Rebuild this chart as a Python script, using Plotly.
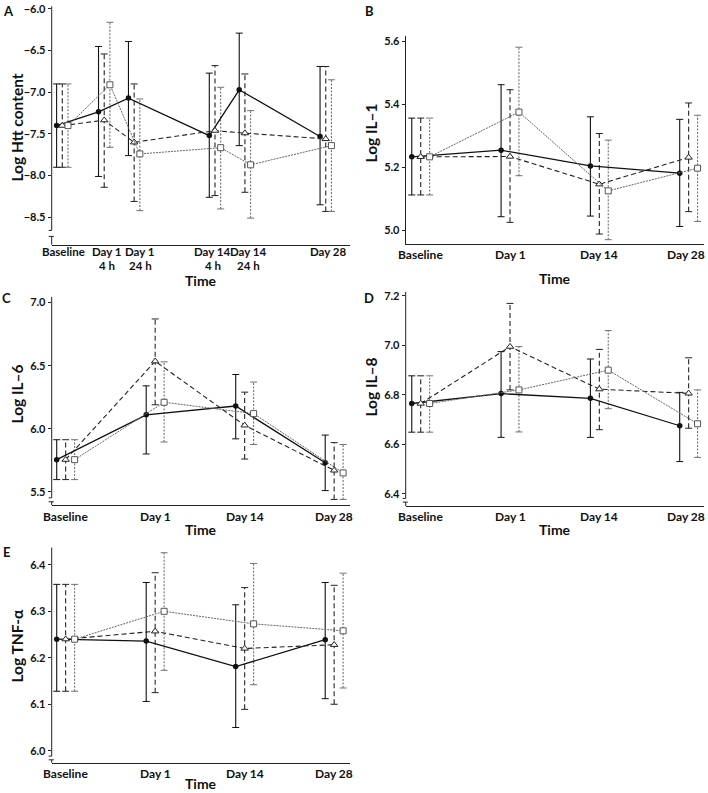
import plotly.graph_objects as go

W, H = 708, 793
FONT = "Lato"

# ---------------- data ----------------
htt_labels = ["Baseline", "Day 1<br>4 h", "Day 1<br>24 h", "Day 14<br>4 h", "Day 14<br>24 h", "Day 28"]
htt_positions = [0, 1.4, 2.4, 5.1, 6.1, 8.8]
visit_labels = ["Baseline", "Day 1", "Day 14", "Day 28"]
visit_positions = [0, 1, 2, 3]

# Panel A: Log Htt content
htt_g1 = [-7.40, -7.235, -7.07, -7.52, -6.97, -7.53]
htt_g1_lo = [-7.90, -8.01, -7.76, -8.26, -7.64, -8.35]
htt_g1_hi = [-6.90, -6.45, -6.39, -6.77, -6.29, -6.69]
htt_g2 = [-7.40, -7.335, -7.60, -7.46, -7.49, -7.56]
htt_g2_lo = [-7.90, -8.14, -8.31, -8.24, -8.20, -8.43]
htt_g2_hi = [-6.90, -6.54, -6.90, -6.68, -6.78, -6.69]
htt_g3 = [-7.40, -6.91, -7.74, -7.665, -7.87, -7.64]
htt_g3_lo = [-7.90, -7.66, -8.42, -8.40, -8.51, -8.43]
htt_g3_hi = [-6.90, -6.16, -7.08, -6.94, -7.22, -6.85]

# Panel B: Log IL-1
il1_g1 = [5.233, 5.254, 5.204, 5.181]
il1_g1_lo = [5.112, 5.043, 5.045, 5.012]
il1_g1_hi = [5.356, 5.462, 5.360, 5.352]
il1_g2 = [5.233, 5.234, 5.146, 5.231]
il1_g2_lo = [5.112, 5.025, 4.988, 5.059]
il1_g2_hi = [5.356, 5.446, 5.307, 5.404]
il1_g3 = [5.233, 5.375, 5.125, 5.197]
il1_g3_lo = [5.112, 5.173, 4.970, 5.028]
il1_g3_hi = [5.356, 5.581, 5.286, 5.365]

# Panel C: Log IL-6
il6_g1 = [5.755, 6.11, 6.18, 5.73]
il6_g1_lo = [5.597, 5.80, 5.92, 5.51]
il6_g1_hi = [5.913, 6.34, 6.43, 5.95]
il6_g2 = [5.755, 6.535, 6.027, 5.67]
il6_g2_lo = [5.597, 6.19, 5.76, 5.44]
il6_g2_hi = [5.913, 6.87, 6.29, 5.89]
il6_g3 = [5.755, 6.21, 6.12, 5.65]
il6_g3_lo = [5.597, 5.895, 5.875, 5.44]
il6_g3_hi = [5.913, 6.53, 6.37, 5.875]

# Panel D: Log IL-8
il8_g1 = [6.765, 6.805, 6.786, 6.675]
il8_g1_lo = [6.649, 6.628, 6.628, 6.53]
il8_g1_hi = [6.877, 6.975, 6.945, 6.81]
il8_g2 = [6.765, 6.995, 6.823, 6.806]
il8_g2_lo = [6.649, 6.82, 6.659, 6.665]
il8_g2_hi = [6.877, 7.17, 6.984, 6.95]
il8_g3 = [6.765, 6.82, 6.90, 6.683]
il8_g3_lo = [6.649, 6.65, 6.744, 6.547]
il8_g3_hi = [6.877, 6.995, 7.06, 6.82]

# Panel E: Log TNF-alpha
tnf_g1 = [6.240, 6.236, 6.181, 6.239]
tnf_g1_lo = [6.128, 6.106, 6.050, 6.112]
tnf_g1_hi = [6.358, 6.362, 6.314, 6.362]
tnf_g2 = [6.240, 6.257, 6.220, 6.228]
tnf_g2_lo = [6.128, 6.125, 6.089, 6.100]
tnf_g2_hi = [6.358, 6.383, 6.351, 6.356]
tnf_g3 = [6.240, 6.300, 6.273, 6.258]
tnf_g3_lo = [6.128, 6.173, 6.142, 6.135]
tnf_g3_hi = [6.358, 6.426, 6.403, 6.382]

# ---------------- styles ----------------
STYLES = [
    dict(line=dict(color="#111111", width=1.3, dash="solid"),
         marker=dict(symbol="circle", size=5.5, color="#111111", line=dict(width=0)),
         ebar=dict(color="#111111", width=1.1, dash="solid")),
    dict(line=dict(color="#222222", width=1.1, dash="5px,3px"),
         marker=dict(symbol="triangle-up", size=6.5, color="white", line=dict(width=1, color="#222222")),
         ebar=dict(color="#222222", width=1.1, dash="5px,3px")),
    dict(line=dict(color="#666666", width=1.0, dash="2px,1px"),
         marker=dict(symbol="square", size=6, color="white", line=dict(width=1, color="#555555")),
         ebar=dict(color="#707070", width=1.1, dash="2px,1.5px")),
]
TXT = "#111111"


def xdom(l, r):
    return [l / W, r / W]


def ydom(top, bottom):
    return [1 - bottom / H, 1 - top / H]


def py(ypix):
    return 1 - ypix / H


panels = [
    dict(n="", labels=htt_labels, pos=htt_positions, dodge=0.19, lab_shift=[1, 3, 6, -2, 4, 3],
         lab_size=11.5, lab_gap=14,
         series=[(htt_g1, htt_g1_lo, htt_g1_hi), (htt_g2, htt_g2_lo, htt_g2_hi), (htt_g3, htt_g3_lo, htt_g3_hi)],
         xd=xdom(51.7, 350), yd=ydom(3.3, 242.7), xr=[-0.354, 9.61], yr=[-8.83, -5.968],
         yt=[-8.5, -8.0, -7.5, -7.0, -6.5, -6.0], brk=(14.4, 8.4), lab_y=249,
         ytitle="Log Htt content", ytitle_xy=(17, 125), letter="A", letter_xy=(8, 8), time_y=278.5),
    dict(n="2", labels=visit_labels, pos=visit_positions, dodge=0.1, lab_shift=[0, 0, 0, -3],
         lab_size=12, lab_gap=14,
         series=[(il1_g1, il1_g1_lo, il1_g1_hi), (il1_g2, il1_g2_lo, il1_g2_hi), (il1_g3, il1_g3_lo, il1_g3_hi)],
         xd=xdom(405.7, 704), yd=ydom(33.3, 241.7), xr=[-0.168, 3.172], yr=[4.957, 5.616],
         yt=[5.0, 5.2, 5.4, 5.6], brk=None, lab_y=252,
         ytitle="Log IL–1", ytitle_xy=(371, 131), letter="B", letter_xy=(369, 8), time_y=277),
    dict(n="3", labels=visit_labels, pos=visit_positions, dodge=0.1, lab_shift=[0, 0, 0, 0],
         lab_size=12, lab_gap=14,
         series=[(il6_g1, il6_g1_lo, il6_g1_hi), (il6_g2, il6_g2_lo, il6_g2_hi), (il6_g3, il6_g3_lo, il6_g3_hi)],
         xd=xdom(51.7, 350), yd=ydom(295, 504), xr=[-0.156, 3.177], yr=[5.395, 7.045],
         yt=[5.5, 6.0, 6.5, 7.0], brk=(7.3, 3.3), lab_y=515,
         ytitle="Log IL–6", ytitle_xy=(17, 393), letter="C", letter_xy=(6, 296), time_y=528),
    dict(n="4", labels=visit_labels, pos=visit_positions, dodge=0.1, lab_shift=[0, 0, 0, -3],
         lab_size=12, lab_gap=14,
         series=[(il8_g1, il8_g1_lo, il8_g1_hi), (il8_g2, il8_g2_lo, il8_g2_hi), (il8_g3, il8_g3_lo, il8_g3_hi)],
         xd=xdom(405.7, 704), yd=ydom(290, 505), xr=[-0.168, 3.172], yr=[6.350, 7.2165],
         yt=[6.4, 6.6, 6.8, 7.0, 7.2], brk=(7.7, 4.0), lab_y=515,
         ytitle="Log IL–8", ytitle_xy=(371, 386), letter="D", letter_xy=(369, 296), time_y=528),
    dict(n="5", labels=visit_labels, pos=visit_positions, dodge=0.1, lab_shift=[0, 0, 0, 0],
         lab_size=12, lab_gap=14,
         series=[(tnf_g1, tnf_g1_lo, tnf_g1_hi), (tnf_g2, tnf_g2_lo, tnf_g2_hi), (tnf_g3, tnf_g3_lo, tnf_g3_hi)],
         xd=xdom(51.7, 350), yd=ydom(546.7, 762.7), xr=[-0.156, 3.177], yr=[5.974, 6.437],
         yt=[6.0, 6.1, 6.2, 6.3, 6.4], brk=(6.7, 3.0), lab_y=773,
         ytitle="Log TNF-α", ytitle_xy=(17, 645), letter="E", letter_xy=(6, 551), time_y=None),
]

fig = go.Figure()
layout = dict(width=W, height=H, margin=dict(l=0, r=0, t=0, b=0),
              paper_bgcolor="white", plot_bgcolor="white", showlegend=False,
              font=dict(family=FONT, color=TXT))
annotations = []
shapes = []

for p in panels:
    xa = "x" + p["n"]
    ya = "y" + p["n"]
    offsets = [-p["dodge"], 0.0, p["dodge"]]
    # error bars
    for (mean, lo, hi), off, st in zip(p["series"], offsets, STYLES):
        ex, ey = [], []
        for xpos, l, h in zip(p["pos"], lo, hi):
            ex += [xpos + off, xpos + off, None]
            ey += [l, h, None]
        fig.add_trace(go.Scatter(x=ex, y=ey, xaxis=xa, yaxis=ya, mode="lines+markers",
                                 line=st["ebar"], hoverinfo="skip",
                                 marker=dict(symbol="line-ew", size=5,
                                             line=dict(width=1, color=st["ebar"]["color"]))))
    # mean lines
    for gi, ((mean, lo, hi), off, st) in enumerate(zip(p["series"], offsets, STYLES)):
        fig.add_trace(go.Scatter(x=[xpos + off for xpos in p["pos"]], y=mean, xaxis=xa, yaxis=ya,
                                 mode="lines+markers", name=f"Group {gi + 1}",
                                 line=st["line"], marker=st["marker"]))

    xkey = "xaxis" + p["n"]
    ykey = "yaxis" + p["n"]
    layout[xkey] = dict(domain=p["xd"], range=p["xr"], anchor=ya, showgrid=False, zeroline=False,
                        showline=True, linecolor="#222222", linewidth=1,
                        tickmode="array", tickvals=p["pos"], showticklabels=False, ticks="")
    layout[ykey] = dict(domain=p["yd"], range=p["yr"], anchor=xa, showgrid=False, zeroline=False,
                        showline=p["brk"] is None, linecolor="#222222", linewidth=1,
                        tickmode="array", tickvals=p["yt"], tickformat=".1f",
                        ticks="outside", ticklen=3, tickcolor="#222222",
                        tickfont=dict(family=FONT, size=11, color=TXT, weight="bold"))

    # category labels (x tick labels), one text line per annotation
    for xpos, lab, sh in zip(p["pos"], p["labels"], p["lab_shift"]):
        for li, part in enumerate(lab.split("<br>")):
            annotations.append(dict(text=part, xref=xa, x=xpos, xshift=sh, yref="paper",
                                    y=py(p["lab_y"] + li * p["lab_gap"]), showarrow=False,
                                    borderpad=0, xanchor="center", yanchor="middle",
                                    font=dict(family=FONT, size=p["lab_size"], color=TXT, weight="bold")))

    dw = (p["xd"][1] - p["xd"][0]) * W
    dh = (p["yd"][1] - p["yd"][0]) * H
    if p["brk"] is not None:
        gtop = p["brk"][0] / dh
        gbot = p["brk"][1] / dh
        c = 3.0 / dw
        xr_ = xa + " domain"
        yr_ = ya + " domain"
        ln = dict(color="#222222", width=1)
        shapes += [
            dict(type="line", xref=xr_, yref=yr_, x0=0, x1=0, y0=gtop, y1=1, line=ln),
            dict(type="line", xref=xr_, yref=yr_, x0=-c, x1=0, y0=gtop, y1=gtop, line=ln),
            dict(type="line", xref=xr_, yref=yr_, x0=-c, x1=c * 0.7, y0=gbot, y1=gbot, line=ln),
            dict(type="line", xref=xr_, yref=yr_, x0=0, x1=0, y0=0, y1=gbot, line=ln),
        ]

    if p["time_y"] is None:
        time_pos = dict(y=0, yanchor="bottom")
    else:
        time_pos = dict(y=py(p["time_y"]), yanchor="middle")
    annotations.append(dict(text="Time", xref=xa + " domain", x=0.5, yref="paper",
                            showarrow=False, xanchor="center", borderpad=0,
                            font=dict(family=FONT, size=14, color=TXT, weight="bold"), **time_pos))
    annotations.append(dict(text=p["ytitle"], xref="paper", x=p["ytitle_xy"][0] / W, yref="paper",
                            y=py(p["ytitle_xy"][1]), textangle=-90, showarrow=False,
                            xanchor="center", yanchor="middle",
                            font=dict(family=FONT, size=15.5, color=TXT, weight="bold")))
    annotations.append(dict(text=p["letter"], xref="paper", x=p["letter_xy"][0] / W, yref="paper",
                            y=py(p["letter_xy"][1]), showarrow=False,
                            xanchor="center", yanchor="middle",
                            font=dict(family=FONT, size=13, color=TXT, weight="bold")))

layout["annotations"] = annotations
layout["shapes"] = shapes
fig.update_layout(**layout)
fig.write_html("out.html", config={"displayModeBar": False},
               post_script="document.body.style.margin='0px';document.body.style.overflow='hidden';")
